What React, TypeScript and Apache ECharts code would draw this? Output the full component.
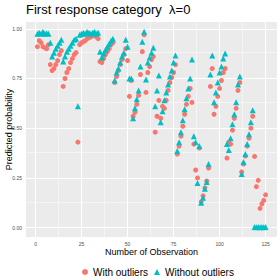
import React, { useEffect, useRef } from 'react';
import * as echarts from 'echarts';

// Predicted probability per observation (index 1..125)
const withOutliers = [
  0.91, 0.94, 0.93, 0.91, 0.905, 0.9, 0.92,
  0.82, 0.79, 0.8, 0.82, 0.84, 0.87, 0.89,
  0.71, 0.75, 0.78, 0.8, 0.83, 0.85, 0.87, 0.88,
  0.43,
  0.92, 0.93, 0.935, 0.94, 0.95, 0.955, 0.96, 0.965, 0.97, 0.96, 0.95,
  0.835,
  0.83, 0.85, 0.87, 0.885, 0.9, 0.92, 0.93,
  0.73, 0.76, 0.79, 0.82, 0.845, 0.87, 0.9, 0.84,
  0.66, 0.74,
  0.56, 0.58, 0.62, 0.665,
  0.77, 0.885, 0.97,
  0.68, 0.78, 0.81, 0.845, 0.86,
  0.48, 0.56, 0.64, 0.55, 0.61,
  0.6, 0.64, 0.69, 0.73, 0.755, 0.78, 0.82,
  0.37, 0.41, 0.46, 0.51, 0.57, 0.62, 0.66, 0.7,
  0.63, 0.42, 0.29, 0.25, 0.4,
  0.13, 0.16, 0.2, 0.235, 0.3,
  0.71, 0.8,
  0.57, 0.61, 0.66, 0.7, 0.74, 0.78, 0.8,
  0.35, 0.43, 0.42, 0.49, 0.55, 0.6, 0.69, 0.73,
  0.28, 0.32, 0.36, 0.41, 0.45, 0.5, 0.56,
  0.358, 0.206, 0.238, 0.097, 0.12, 0.137, 0.165,
];

const withoutOutliers = [
  0.975, 0.98, 0.975, 0.985, 0.975, 0.978, 0.975,
  0.93, 0.86, 0.88, 0.9, 0.915, 0.93, 0.945,
  0.835, 0.86, 0.885, 0.9, 0.915, 0.93, 0.945, 0.95,
  0.61,
  0.97, 0.975, 0.98, 0.975, 0.985, 0.98, 0.975, 0.98, 0.985, 0.975, 0.98,
  0.885,
  0.855, 0.875, 0.895, 0.91, 0.925, 0.94, 0.95,
  0.74, 0.78, 0.8, 0.83, 0.86, 0.88, 0.945, 0.91,
  0.75, 0.75,
  0.55, 0.6, 0.645, 0.69,
  0.81, 0.935, 0.985,
  0.745, 0.83, 0.855, 0.88, 0.905,
  0.61, 0.69, 0.765, 0.53, 0.585,
  0.64, 0.68, 0.72, 0.76, 0.79, 0.83, 0.865,
  0.385, 0.43, 0.48, 0.54, 0.595, 0.65, 0.7, 0.75,
  0.845, 0.46, 0.43, 0.225, 0.41,
  0.125, 0.15, 0.195, 0.23, 0.32,
  0.77, 0.865,
  0.63, 0.68, 0.73, 0.78, 0.81, 0.85, 0.875,
  0.42, 0.39, 0.45, 0.52, 0.57, 0.63, 0.72, 0.76,
  0.27, 0.33, 0.37, 0.42, 0.47, 0.53, 0.59,
  0.003, 0.002, 0.003, 0.002, 0.003, 0.002, 0.003,
];

const xTicks = [0, 25, 50, 75, 100, 125];
const xMinor = [12.5, 37.5, 62.5, 87.5, 112.5];
const yTicks = [0, 0.25, 0.5, 0.75, 1];
const yMinor = [0.125, 0.375, 0.625, 0.875];
const seriesNames = ['With outliers', 'Without outliers'];
const colors = ['#F8766D', '#00BFC4'];
const titleText = 'First response category  λ=0';
const xTitle = 'Number of Observation';
const yTitle = 'Predicted probability';

export default function App() {
  const ref = useRef<HTMLDivElement>(null);
  useEffect(() => {
    const chart = echarts.init(ref.current as HTMLDivElement, null, { renderer: 'svg' });
    const font = '"Liberation Sans", Arial, sans-serif';
    const grid = { left: 26, right: 3, top: 22, bottom: 43 };
    const gridLines = [
      ...xMinor.map((v) => ({ xAxis: v, lineStyle: { width: 0.5 } })),
      ...yMinor.map((v) => ({ yAxis: v, lineStyle: { width: 0.5 } })),
      ...xTicks.map((v) => ({ xAxis: v, lineStyle: { width: 1 } })),
      ...yTicks.map((v) => ({ yAxis: v, lineStyle: { width: 1 } })),
    ];
    const axisCommon = {
      axisLine: { show: false },
      splitLine: { show: false },
      axisTick: { show: true, length: 2.5, lineStyle: { color: '#333333', width: 0.6 } },
    };
    chart.setOption({
      animation: false,
      backgroundColor: '#ffffff',
      textStyle: { fontFamily: font },
      grid: { ...grid, show: true, backgroundColor: '#EBEBEB', borderWidth: 0 },
      xAxis: {
        type: 'value',
        min: -5.2,
        max: 131.2,
        ...axisCommon,
        axisTick: { ...axisCommon.axisTick, customValues: xTicks },
        axisLabel: {
          customValues: xTicks,
          fontSize: 5,
          color: '#4D4D4D',
          margin: 4,
          fontFamily: font,
        },
      },
      yAxis: {
        type: 'value',
        min: -0.047,
        max: 1.034,
        ...axisCommon,
        axisTick: { ...axisCommon.axisTick, customValues: yTicks },
        axisLabel: {
          customValues: yTicks,
          fontSize: 5,
          color: '#4D4D4D',
          margin: 4,
          fontFamily: font,
          formatter: (v: number) => v.toFixed(2),
        },
      },
      legend: {
        left: 77,
        top: 262,
        itemWidth: 6,
        itemHeight: 6,
        itemGap: 6,
        textStyle: { fontSize: 10, color: '#000', fontFamily: font },
        data: [
          { name: seriesNames[0], icon: 'circle' },
          { name: seriesNames[1], icon: 'triangle' },
        ],
      },
      graphic: [
        {
          type: 'text',
          left: 26,
          top: 3,
          style: { text: titleText, fontSize: 13, fill: '#000', font: `13px ${font}` },
        },
        {
          type: 'text',
          x: 151.5,
          y: 247,
          style: { text: xTitle, fill: '#000', font: `9px ${font}`, textAlign: 'center', textVerticalAlign: 'top' },
        },
        {
          type: 'text',
          x: 4,
          y: 129.5,
          rotation: Math.PI / 2,
          style: { text: yTitle, fill: '#000', font: `9px ${font}`, textAlign: 'center', textVerticalAlign: 'top' },
        },
      ],
      series: [
        {
          type: 'scatter',
          name: '__grid',
          data: [],
          silent: true,
          z: 1,
          markLine: {
            silent: true,
            z: 1,
            symbol: 'none',
            animation: false,
            label: { show: false },
            lineStyle: { color: '#ffffff', type: 'solid', width: 1 },
            emphasis: { disabled: true },
            data: gridLines,
          },
        },
        {
          type: 'scatter',
          name: seriesNames[0],
          symbol: 'circle',
          symbolSize: 5,
          z: 3,
          itemStyle: { color: colors[0], opacity: 1 },
          data: withOutliers.map((v, i) => [i + 1, v]),
        },
        {
          type: 'scatter',
          name: seriesNames[1],
          symbol: 'triangle',
          symbolSize: 6,
          z: 4,
          itemStyle: { color: colors[1], opacity: 1 },
          data: withoutOutliers.map((v, i) => [i + 1, v]),
        },
      ],
    });
    return () => chart.dispose();
  }, []);
  return (
    <div
      ref={ref}
      style={{ position: 'fixed', left: 0, top: 0, width: 280, height: 280, background: '#fff' }}
    />
  );
}
